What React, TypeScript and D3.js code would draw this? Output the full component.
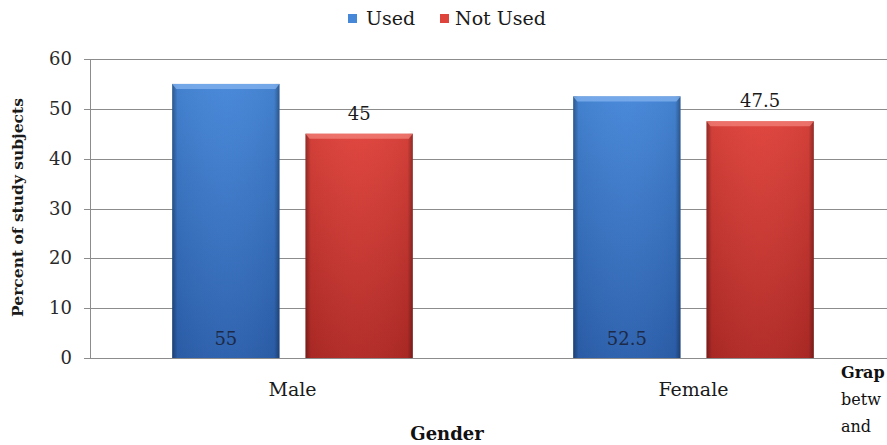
import React from "react";
import * as d3 from "d3";

const categories = ["Male", "Female"];
const seriesNames = ["Used", "Not Used"];
const usedValues = [55, 52.5];
const notUsedValues = [45, 47.5];
const yTicks = [0, 10, 20, 30, 40, 50, 60];
const sideNote = ["Grap", "betw", "and"];

const W = 887;
const H = 445;
const FONT = "'DejaVu Serif', serif";

const seriesColors = [
  { top: "#4687d8", bottom: "#2c60ad", light: "#7fb0ee" },
  { top: "#de433c", bottom: "#b12a26", light: "#f07d76" },
];

export default function App() {
  const y = d3.scaleLinear().domain([0, 60]).range([358, 59]);
  const x0 = d3
    .scaleBand<string>()
    .domain(categories)
    .range([92, 894])
    .paddingInner(0.4)
    .paddingOuter(0.2);
  const x1 = d3
    .scaleBand<string>()
    .domain(seriesNames)
    .range([0, x0.bandwidth()])
    .paddingInner(0.195);

  const rows = categories.map((c, i) => ({
    cat: c,
    vals: [usedValues[i], notUsedValues[i]],
  }));

  return (
    <svg
      width={W}
      height={H}
      style={{ position: "absolute", left: 0, top: 0, background: "#fff" }}
    >
      <defs>
        {seriesColors.map((c, i) => (
          <linearGradient key={i} id={`vg${i}`} x1="0" y1="0" x2="0" y2="1">
            <stop offset="0%" stopColor={c.top} />
            <stop offset="100%" stopColor={c.bottom} />
          </linearGradient>
        ))}
        <linearGradient id="edge" x1="0" y1="0" x2="1" y2="0">
          <stop offset="0%" stopColor="#000" stopOpacity={0.35} />
          <stop offset="5%" stopColor="#000" stopOpacity={0.05} />
          <stop offset="50%" stopColor="#fff" stopOpacity={0.02} />
          <stop offset="95%" stopColor="#000" stopOpacity={0.05} />
          <stop offset="100%" stopColor="#000" stopOpacity={0.35} />
        </linearGradient>
      </defs>

      {/* legend */}
      <g fontFamily={FONT} fontSize={19} fill="#1a1a1a">
        <rect x={348} y={14} width={9} height={9} fill={seriesColors[0].top} />
        <text x={366} y={25}>{seriesNames[0]}</text>
        <rect x={440} y={14} width={9} height={9} fill={seriesColors[1].top} />
        <text x={455} y={25}>{seriesNames[1]}</text>
      </g>

      {/* gridlines */}
      {yTicks.map((t) => (
        <line
          key={t}
          x1={84}
          x2={W}
          y1={Math.round(y(t)) + 0.5}
          y2={Math.round(y(t)) + 0.5}
          stroke="#8c8c8c"
          strokeWidth={1}
        />
      ))}
      <line x1={90.5} x2={90.5} y1={y(60)} y2={y(0) + 1} stroke="#8c8c8c" />

      {/* y tick labels */}
      <g fontFamily={FONT} fontSize={18} fill="#2a2a2a" textAnchor="end">
        {yTicks.map((t) => (
          <text key={t} x={72} y={y(t) + 6}>
            {t}
          </text>
        ))}
      </g>

      {/* y axis title */}
      <text
        transform={`translate(23,${(98 + 317) / 2}) rotate(-90)`}
        textAnchor="middle"
        fontFamily={FONT}
        fontSize={15.5}
        fontWeight={600}
        fill="#1a1a1a"
      >
        Percent of study subjects
      </text>

      {/* bars */}
      {rows.map((r) => (
        <g key={r.cat} transform={`translate(${x0(r.cat)},0)`}>
          {r.vals.map((v, si) => {
            const bx = x1(seriesNames[si])!;
            const bw = x1.bandwidth();
            const by = y(v);
            const bh = y(0) - by;
            return (
              <g key={si}>
                <rect x={bx} y={by} width={bw} height={bh} fill={`url(#vg${si})`} />
                <rect x={bx} y={by} width={bw} height={bh} fill="url(#edge)" />
                <path
                  d={`M${bx},${by} L${bx + bw},${by} L${bx + bw - 4},${by + 5} L${bx + 4},${by + 5} Z`}
                  fill={seriesColors[si].light}
                  opacity={0.8}
                />
              </g>
            );
          })}
          {/* value labels */}
          <text
            x={x1(seriesNames[0])! + x1.bandwidth() / 2}
            y={345}
            textAnchor="middle"
            fontFamily={FONT}
            fontSize={18}
            fill="#1c2a48"
          >
            {r.vals[0]}
          </text>
          <text
            x={x1(seriesNames[1])! + x1.bandwidth() / 2}
            y={y(r.vals[1]) - 14}
            textAnchor="middle"
            fontFamily={FONT}
            fontSize={18}
            fill="#1a1a1a"
          >
            {r.vals[1]}
          </text>
        </g>
      ))}

      {/* category labels */}
      <g fontFamily={FONT} fontSize={19} fill="#1a1a1a" textAnchor="middle">
        {categories.map((c) => (
          <text key={c} x={x0(c)! + x0.bandwidth() / 2} y={396}>
            {c}
          </text>
        ))}
      </g>

      {/* x axis title */}
      <text
        x={447}
        y={440}
        textAnchor="middle"
        fontFamily={FONT}
        fontSize={18}
        fontWeight="bold"
        fill="#111"
      >
        Gender
      </text>

      {/* caption fragment at right edge */}
      <g fontFamily={FONT} fontSize={16} fill="#111">
        {sideNote.map((s, i) => (
          <text key={s} x={841} y={378 + i * 27} fontWeight={i === 0 ? "bold" : "normal"}>
            {s}
          </text>
        ))}
      </g>
    </svg>
  );
}
